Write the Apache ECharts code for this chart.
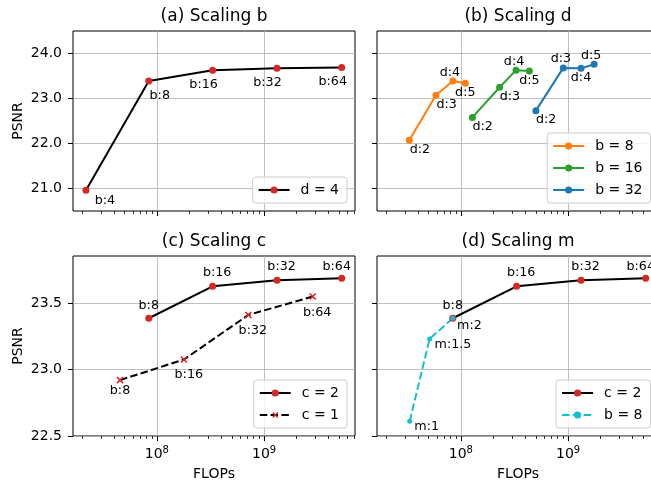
<!DOCTYPE html>
<html><head><meta charset="utf-8">
<script src="https://cdn.jsdelivr.net/npm/echarts@6/dist/echarts.min.js"></script>
<style>html,body{margin:0;padding:0;background:#fff}#c{width:651px;height:481px}</style>
</head><body><div id="c"></div>
<script>
// ---------------- data ----------------
const xLimits = [1.65e7, 7.05e9];
const yTopLimits = [20.5, 24.5];
const yBottomLimits = [22.5, 23.853];
const yTopTicks = [21, 22, 23, 24];
const yBottomTicks = [22.5, 23.0, 23.5];
const xMajorTicks = [1e8, 1e9];
const xMinorTicks = [2e7, 3e7, 4e7, 5e7, 6e7, 7e7, 8e7, 9e7,
                     2e8, 3e8, 4e8, 5e8, 6e8, 7e8, 8e8, 9e8,
                     2e9, 3e9, 4e9, 5e9, 6e9, 7e9];

// (a) Scaling b, d = 4
const aFlops = [2.18e7, 8.4e7, 3.31e8, 1.32e9, 5.3e9];
const aPsnr = [20.96, 23.39, 23.63, 23.67, 23.69];
const aLabels = ['b:4', 'b:8', 'b:16', 'b:32', 'b:64'];

// (b) Scaling d
const bB8Flops = [3.30e7, 5.85e7, 8.43e7, 1.10e8];
const bB8Psnr = [22.07, 23.07, 23.39, 23.34];
const bB16Flops = [1.28e8, 2.30e8, 3.27e8, 4.35e8];
const bB16Psnr = [22.58, 23.25, 23.63, 23.61];
const bB32Flops = [5.01e8, 9.02e8, 1.32e9, 1.75e9];
const bB32Psnr = [22.73, 23.68, 23.67, 23.76];
const bLabels = ['d:2', 'd:3', 'd:4', 'd:5'];

// (c) Scaling c
const cC2Flops = [8.4e7, 3.31e8, 1.32e9, 5.3e9];
const cC2Psnr = [23.385, 23.625, 23.67, 23.685];
const cC2Labels = ['b:8', 'b:16', 'b:32', 'b:64'];
const cC1Flops = [4.53e7, 1.79e8, 7.13e8, 2.84e9];
const cC1Psnr = [22.92, 23.075, 23.41, 23.548];
const cC1Labels = ['b:8', 'b:16', 'b:32', 'b:64'];

// (d) Scaling m
const dB8Flops = [3.33e7, 5.11e7, 8.4e7];
const dB8Psnr = [22.61, 23.23, 23.385];
const dB8Labels = ['m:1', 'm:1.5', 'm:2'];

// ---------------- styling ----------------
const FONT = 'DejaVu Sans';
const RED = '#d62728', ORANGE = '#ff7f0e', GREEN = '#2ca02c', BLUE = '#1f77b4', CYAN = '#17becf';
const XMARK = 'path://M4.1,0H5.9V4.1H10V5.9H5.9V10H4.1V5.9H0V4.1H4.1Z';

// label offsets (px) relative to the marker centre
const aOff = [[19, 10], [11, 15], [-9, 14.5], [-9.5, 14], [-9, 14]];
const b8Off = [[10.7, 9.7], [10.7, 9.7], [-3, -8], [0, 9.3]];
const b16Off = [[10.3, 9.3], [10.3, 9.7], [-2, -8.7], [0, 9.3]];
const b32Off = [[10.3, 9.3], [-2.3, -9], [0, 9.3], [-3, -8.7]];
const c2Off = [[0, -13], [4.6, -13.3], [4.6, -13.7], [-5, -12]];
const c1Off = [[0, 11], [4.8, 14.7], [4.5, 16], [4.5, 16]];
const dB8Off = [[17, 5.7], [23.3, 5.7], [16.7, 7.3]];

const legendNames = {'d = 4': 'd = 4', 'b = 8': 'b = 8', 'b = 16': 'b = 16', 'b = 32': 'b = 32',
  'c = 2': 'c = 2', 'c = 1': 'c = 1', 'm b = 8': 'b = 8'};

const grids = [
  {left: 73, top: 31, width: 282, height: 180},
  {left: 377, top: 31, width: 282, height: 180},
  {left: 73, top: 256, width: 282, height: 180},
  {left: 377, top: 256, width: 282, height: 180}
].map(g => Object.assign(g, {show: true, borderColor: '#000', borderWidth: 1, backgroundColor: 'transparent',
  containLabel: false, outerBoundsMode: 'none'}));

const lx = v => Math.log10(v);
const gridLine = {show: true, lineStyle: {color: '#b0b0b0', width: 0.8}};

function xAxesFor(gi, showLabels) {
  const lo = lx(xLimits[0]), hi = lx(xLimits[1]);
  return [
    {type: 'log', logBase: 10, gridIndex: gi, position: 'bottom', min: xLimits[0], max: xLimits[1], show: false},
    {type: 'value', gridIndex: gi, position: 'bottom', min: lo, max: hi,
      axisLine: {show: false},
      axisTick: {show: true, customValues: xMajorTicks.map(lx), length: 5, lineStyle: {color: '#000', width: 1}},
      axisLabel: {show: showLabels, customValues: xMajorTicks.map(lx), margin: 9,
        formatter: v => '{b|10}{s|' + Math.round(v) + '}',
        rich: {b: {fontSize: 14, fontFamily: FONT, color: '#000', verticalAlign: 'bottom', lineHeight: 16},
               s: {fontSize: 10, fontFamily: FONT, color: '#000', verticalAlign: 'top', lineHeight: 11, padding: [0, 0, 8, 0]}}},
      splitLine: gridLine,
      name: showLabels ? 'FLOPs' : '', nameLocation: 'middle', nameGap: 31,
      nameTextStyle: {fontSize: 14, fontFamily: FONT, color: '#000'}},
    {type: 'value', gridIndex: gi, position: 'bottom', min: lo, max: hi,
      axisLine: {show: false},
      axisTick: {show: true, customValues: xMinorTicks.map(lx), length: 3, lineStyle: {color: '#000', width: 0.8}},
      axisLabel: {show: false}, splitLine: {show: false}}
  ];
}

function yAxisFor(gi, lim, ticks, showLabels) {
  return {type: 'value', gridIndex: gi, position: 'left', min: lim[0], max: lim[1],
    axisLine: {show: false},
    axisTick: {show: true, customValues: ticks, length: 5, lineStyle: {color: '#000', width: 1}},
    axisLabel: {show: showLabels, customValues: ticks, margin: 11, formatter: v => v.toFixed(1),
      fontSize: 14, fontFamily: FONT, color: '#000'},
    splitLine: gridLine,
    name: showLabels ? 'PSNR' : '', nameLocation: 'middle', nameGap: 48,
    nameTextStyle: {fontSize: 14, fontFamily: FONT, color: '#000'}};
}

function pts(xs, ys, labels, offs) {
  return xs.map((x, i) => ({value: [x, ys[i]],
    label: {show: true, formatter: labels[i], position: 'inside', offset: offs[i]}}));
}

function line(gi, name, xs, ys, labels, offs, opt) {
  return Object.assign({
    type: 'line', name: name, xAxisIndex: 3 * gi, yAxisIndex: gi,
    data: pts(xs, ys, labels, offs),
    symbol: 'circle', symbolSize: 7,
    lineStyle: {color: '#000', width: 2, type: 'solid'},
    itemStyle: {color: RED},
    label: {fontSize: 12.7, fontFamily: FONT, color: '#000'},
    emphasis: {disabled: true}, animation: false, clip: true
  }, opt);
}

function legend(names, right, bottom) {
  return {orient: 'vertical', right: right, bottom: bottom, data: names,
    formatter: n => legendNames[n],
    itemWidth: 31, itemHeight: 9, itemGap: 8, padding: [6, 8, 6, 5],
    backgroundColor: 'rgba(255,255,255,0.8)', borderColor: '#cccccc', borderWidth: 1, borderRadius: 3,
    selectedMode: false,
    textStyle: {fontSize: 14, fontFamily: FONT, color: '#000', padding: [0, 0, 0, 6]}};
}

const titleStyle = {fontSize: 17, fontWeight: 'normal', fontFamily: FONT, color: '#000'};
const option = {
  backgroundColor: '#fff',
  animation: false,
  title: [
    {text: '(a) Scaling b', left: 214, top: 8, textAlign: 'center', padding: 0, textStyle: titleStyle},
    {text: '(b) Scaling d', left: 518, top: 8, textAlign: 'center', padding: 0, textStyle: titleStyle},
    {text: '(c) Scaling c', left: 214, top: 233.5, textAlign: 'center', padding: 0, textStyle: titleStyle},
    {text: '(d) Scaling m', left: 518, top: 233.5, textAlign: 'center', padding: 0, textStyle: titleStyle}
  ],
  grid: grids,
  xAxis: [].concat(xAxesFor(0, false), xAxesFor(1, false), xAxesFor(2, true), xAxesFor(3, true)),
  yAxis: [
    yAxisFor(0, yTopLimits, yTopTicks, true),
    yAxisFor(1, yTopLimits, yTopTicks, false),
    yAxisFor(2, yBottomLimits, yBottomTicks, true),
    yAxisFor(3, yBottomLimits, yBottomTicks, false)
  ],
  legend: [
    legend(['d = 4'], 304, 278),
    legend(['b = 8', 'b = 16', 'b = 32'], 0.5, 278),
    legend(['c = 2', 'c = 1'], 304, 53),
    legend(['c = 2', 'm b = 8'], 0.5, 53)
  ],
  series: [
    line(0, 'd = 4', aFlops, aPsnr, aLabels, aOff, {}),
    line(1, 'b = 8', bB8Flops, bB8Psnr, bLabels, b8Off, {lineStyle: {color: ORANGE, width: 2}, itemStyle: {color: ORANGE}}),
    line(1, 'b = 16', bB16Flops, bB16Psnr, bLabels, b16Off, {lineStyle: {color: GREEN, width: 2}, itemStyle: {color: GREEN}}),
    line(1, 'b = 32', bB32Flops, bB32Psnr, bLabels, b32Off, {lineStyle: {color: BLUE, width: 2}, itemStyle: {color: BLUE}}),
    line(2, 'c = 2', cC2Flops, cC2Psnr, cC2Labels, c2Off, {}),
    line(2, 'c = 1', cC1Flops, cC1Psnr, cC1Labels, c1Off, {symbol: XMARK, symbolSize: 8.5, symbolRotate: 45,
      lineStyle: {color: '#000', width: 2, type: [7.5, 3.3]}}),
    line(3, 'c = 2', cC2Flops, cC2Psnr, cC2Labels, c2Off, {}),
    line(3, 'm b = 8', dB8Flops, dB8Psnr, dB8Labels, dB8Off, {symbolSize: 5,
      lineStyle: {color: CYAN, width: 2, type: [7.5, 3.3]}, itemStyle: {color: CYAN}})
  ]
};

const chart = echarts.init(document.getElementById('c'), null, {renderer: 'canvas', width: 651, height: 481});
chart.setOption(option);
</script>
</body></html>
